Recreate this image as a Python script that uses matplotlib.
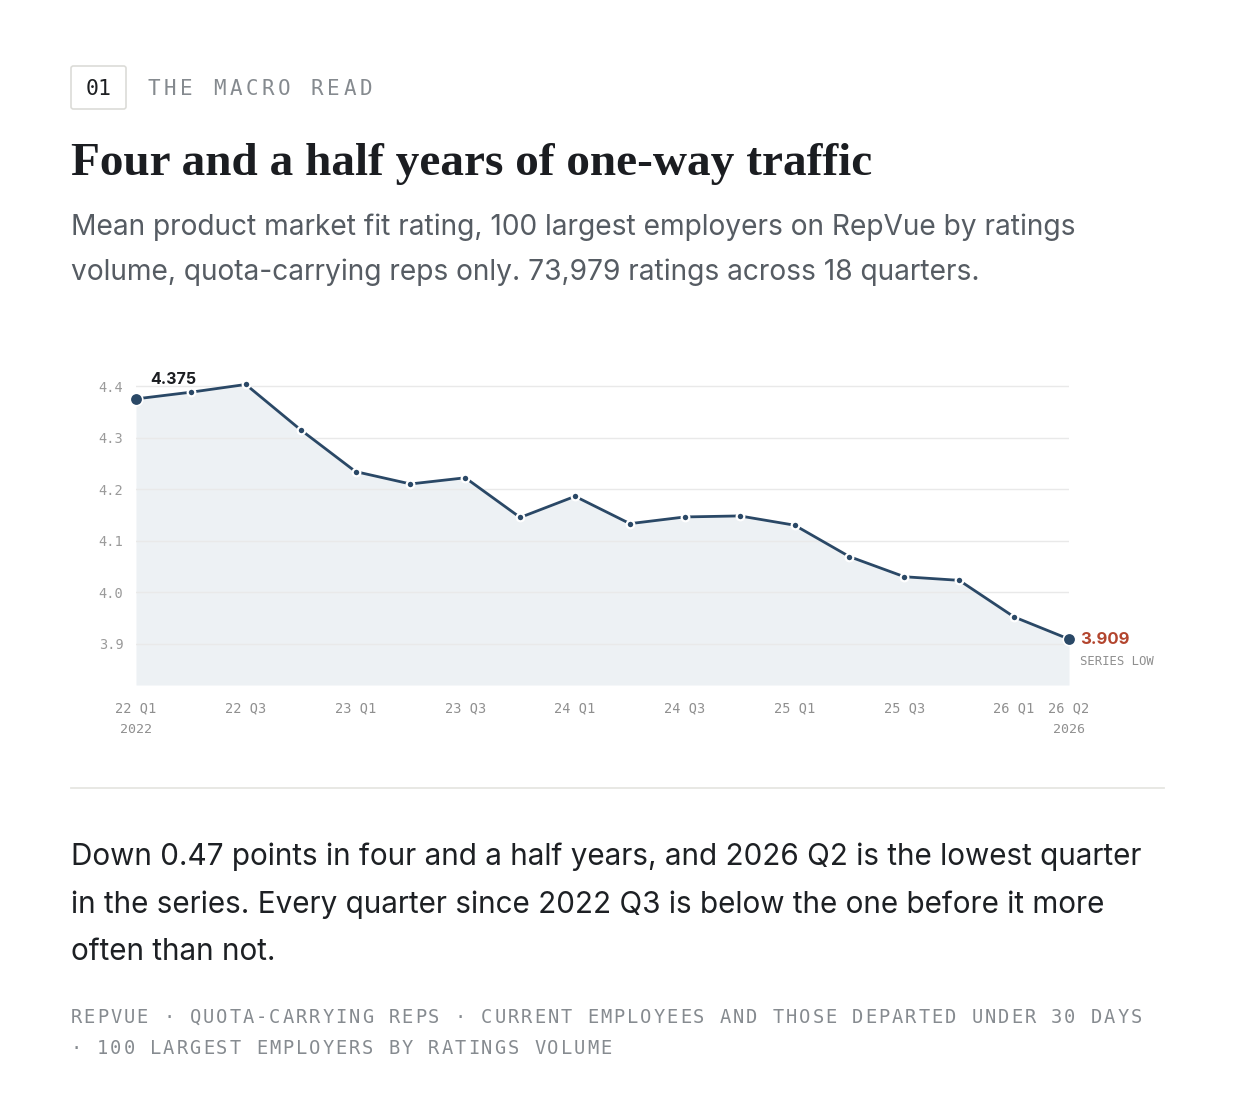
import matplotlib
matplotlib.use("Agg")
import matplotlib.pyplot as plt
from matplotlib.patches import FancyBboxPatch
from matplotlib.lines import Line2D

# ---------------- data ----------------
quarters = ["22 Q1", "22 Q2", "22 Q3", "22 Q4",
            "23 Q1", "23 Q2", "23 Q3", "23 Q4",
            "24 Q1", "24 Q2", "24 Q3", "24 Q4",
            "25 Q1", "25 Q2", "25 Q3", "25 Q4",
            "26 Q1", "26 Q2"]
values = [4.375, 4.388, 4.403, 4.315,
          4.234, 4.210, 4.222, 4.145,
          4.186, 4.133, 4.146, 4.148,
          4.130, 4.069, 4.030, 4.023,
          3.952, 3.909]
tick_idx = [0, 2, 4, 6, 8, 10, 12, 14, 16, 17]
ytick_values = [3.9, 4.0, 4.1, 4.2, 4.3, 4.4]
year_labels = {0: "2022", 17: "2026"}
first_label = "4.375"
last_label = "3.909"
low_note = "SERIES LOW"

kicker_num = "01"
kicker = "THE MACRO READ"
title = "Four and a half years of one-way traffic"
subtitle = ["Mean product market fit rating, 100 largest employers on RepVue by ratings",
            "volume, quota-carrying reps only. 73,979 ratings across 18 quarters."]
body = ["Down 0.47 points in four and a half years, and 2026 Q2 is the lowest quarter",
        "in the series. Every quarter since 2022 Q3 is below the one before it more",
        "often than not."]
footer = ["REPVUE \u00b7 QUOTA-CARRYING REPS \u00b7 CURRENT EMPLOYEES AND THOSE DEPARTED UNDER 30 DAYS",
          "\u00b7 100 LARGEST EMPLOYERS BY RATINGS VOLUME"]

# ---------------- style ----------------
W, H, DPI = 1238, 1116, 100
NAVY = "#2a4866"
FILL = "#edf1f4"
RED = "#b3452e"
GRID = "#e9e9e9"
MONO = "DejaVu Sans Mono"
SANS = ["Inter", "DejaVu Sans"]

fig = plt.figure(figsize=(W / DPI, H / DPI), dpi=DPI)
fig.patch.set_facecolor("white")
renderer = fig.canvas.get_renderer()


def fx(px):
    return px / W


def fy(py):
    return 1 - py / H


def fit_width(t, target):
    bb = t.get_window_extent(renderer)
    t.set_fontsize(t.get_fontsize() * target / bb.width)
    return t.get_fontsize()


def spaced(x_center0, y_base, s, size, pitch, color):
    for i, ch in enumerate(s):
        if ch == " ":
            continue
        fig.text(fx(x_center0 + i * pitch), fy(y_base), ch, fontsize=size,
                 family=MONO, color=color, ha="center", va="baseline")


# ---------------- header ----------------
box = FancyBboxPatch((fx(71), fy(109)), fx(126) - fx(71), fy(66) - fy(109),
                     boxstyle="round,pad=0,rounding_size=0.002",
                     transform=fig.transFigure, facecolor="white",
                     edgecolor="#dcdcd8", linewidth=1.2)
fig.patches.append(box)
fig.text(fx(98.5), fy(95), kicker_num, fontsize=15.5, family=MONO, color="#1d1f22",
         ha="center", va="baseline")
spaced(154, 95, kicker, 15, 16.3, "#858a8f")

t = fig.text(fx(71), fy(175), title, fontsize=36, family="Liberation Serif",
             weight="bold", color="#1b1d21", ha="left", va="baseline")
fit_width(t, 801)

t1 = fig.text(fx(71), fy(235), subtitle[0], fontsize=20, family=SANS,
              color="#565c63", ha="left", va="baseline")
fs = fit_width(t1, 1008)
fig.text(fx(71), fy(280), subtitle[1], fontsize=fs, family=SANS,
         color="#565c63", ha="left", va="baseline")

# ---------------- chart ----------------
ax = fig.add_axes([fx(136), fy(685), fx(1069) - fx(136), fy(375.7) - fy(685)])
x = list(range(len(values)))
ax.set_xlim(0, len(values) - 1)
ax.set_ylim(3.82, 4.42)
ax.fill_between(x, values, 3.82, color=FILL, linewidth=0, zorder=0.2)
ax.set_axisbelow(True)
ax.grid(axis="y", color=GRID, linewidth=1)
ax.plot(x, values, color=NAVY, linewidth=2, marker="o", markersize=5.5,
        markerfacecolor=NAVY, markeredgecolor="white", markeredgewidth=1.6,
        zorder=3, clip_on=False)
ax.plot([x[0], x[-1]], [values[0], values[-1]], linestyle="none", marker="o",
        markersize=9, color=NAVY, markeredgecolor="white", markeredgewidth=1.2,
        zorder=4, clip_on=False)
for s in ax.spines.values():
    s.set_visible(False)
ax.set_yticks(ytick_values)
ax.set_yticklabels([f"{v:.1f}" for v in ytick_values], family=MONO,
                   fontsize=9.8, color="#9a9a9a")
ax.set_xticks(tick_idx)
ax.set_xticklabels([quarters[i] for i in tick_idx], family=MONO,
                   fontsize=9.8, color="#8f8f8f")
ax.tick_params(axis="y", length=0, pad=9)
ax.tick_params(axis="x", length=0, pad=11.5)
for i, yr in year_labels.items():
    ax.annotate(yr, xy=(i, 0), xycoords=("data", "axes fraction"),
                xytext=(0, -31.7), textcoords="offset points", ha="center",
                va="center", family=MONO, fontsize=9.5, color="#8f8f8f")

ax.annotate(first_label, xy=(x[0], values[0]), xytext=(10, 10.8),
            textcoords="offset points", ha="left", va="baseline",
            family=SANS, weight="bold", fontsize=11.5, color="#1b1d21")
ax.annotate(last_label, xy=(x[-1], values[-1]), xytext=(8, 0),
            textcoords="offset points", ha="left", va="center",
            family=SANS, weight="bold", fontsize=12, color=RED,
            annotation_clip=False)
ax.annotate(low_note, xy=(x[-1], values[-1]), xytext=(8, -15.8),
            textcoords="offset points", ha="left", va="center",
            family=MONO, fontsize=8.8, color="#8f8f8f",
            annotation_clip=False)

# ---------------- divider ----------------
fig.lines.append(Line2D([fx(71), fx(1164)], [fy(788), fy(788)],
                        transform=fig.transFigure, color="#e6e6e2", linewidth=1.3))

# ---------------- body ----------------
b0 = fig.text(fx(71), fy(865), body[0], fontsize=21, family=SANS,
              color="#1d2024", ha="left", va="baseline")
bfs = fit_width(b0, 1074)
for line, yb in zip(body[1:], [913, 960]):
    fig.text(fx(71), fy(yb), line, fontsize=bfs, family=SANS,
             color="#1d2024", ha="left", va="baseline")

# ---------------- footer ----------------
spaced(76, 1023, footer[0], 13.5, 13.25, "#868b90")
spaced(76, 1054, footer[1], 13.5, 13.25, "#868b90")

fig.savefig("out.png", dpi=DPI, facecolor="white")
